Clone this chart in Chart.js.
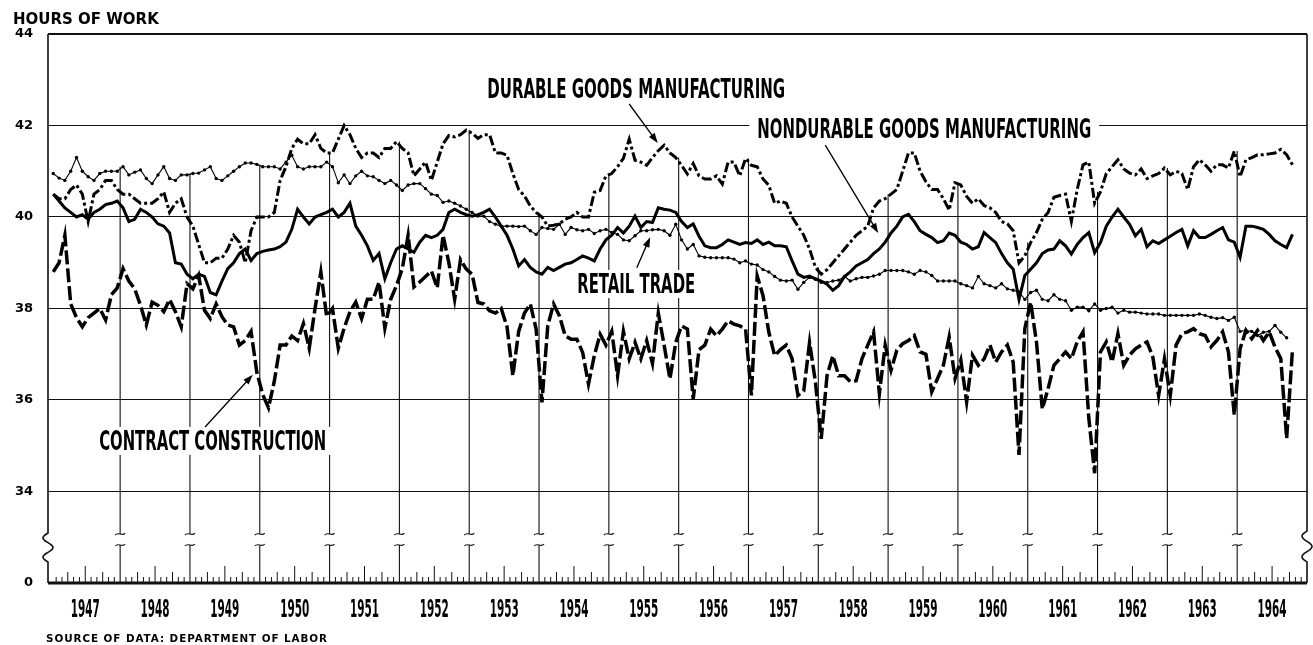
<!DOCTYPE html>
<html>
<head>
<meta charset="utf-8">
<script src="https://cdn.jsdelivr.net/npm/chart.js@4.4.1/dist/chart.umd.min.js"></script>
<style>
  html, body { margin: 0; padding: 0; background: #fff; }
  canvas { display: block; }
</style>
</head>
<body>
<canvas id="hoursChart" width="1313" height="645"></canvas>
<script>
// ==================== DATA (monthly, Jan 1947 - Oct 1964) ====================

const years = ['1947', '1948', '1949', '1950', '1951', '1952', '1953', '1954', '1955',
               '1956', '1957', '1958', '1959', '1960', '1961', '1962', '1963', '1964'];

// y ticks; 32 is the broken-axis position labelled "0"
const yTicks = [32, 34, 36, 38, 40, 42, 44];

const durableGoods = [
    40.5, 40.4, 40.4, 40.6, 40.7, 40.5, 39.9, 40.5, 40.6, 40.8, 40.8, 40.6,
    40.5, 40.5, 40.4, 40.3, 40.3, 40.3, 40.4, 40.55, 40.1, 40.3, 40.4, 40.0,
    39.8, 39.4, 39.0, 39.0, 39.1, 39.1, 39.3, 39.6, 39.45, 39.0, 39.7, 40.0,
    40.0, 40.0, 40.1, 40.8, 41.1, 41.5, 41.7, 41.6, 41.6, 41.8, 41.5, 41.4,
    41.4, 41.7, 42.0, 41.8, 41.5, 41.3, 41.4, 41.4, 41.3, 41.5, 41.5, 41.65,
    41.5, 41.4, 40.9, 41.05, 41.2, 40.8, 41.2, 41.6, 41.78, 41.75, 41.8, 41.9,
    41.83, 41.72, 41.8, 41.8, 41.4, 41.4, 41.35, 40.95, 40.6, 40.46, 40.24, 40.1,
    40.0, 39.8, 39.82, 39.85, 39.95, 40.0, 40.1, 40.0, 40.0, 40.54, 40.58, 40.9,
    40.95, 41.1, 41.28, 41.7, 41.24, 41.2, 41.13, 41.3, 41.45, 41.57, 41.4, 41.3,
    41.13, 40.94, 41.17, 40.9, 40.83, 40.83, 40.9, 40.72, 41.2, 41.2, 40.9, 41.28,
    41.13, 41.1, 40.83, 40.69, 40.3, 40.35, 40.3, 40.0, 39.8, 39.6, 39.3, 38.9,
    38.75, 38.85, 39.0, 39.15, 39.3, 39.45, 39.6, 39.7, 39.8, 40.2, 40.35, 40.4,
    40.5, 40.6, 41.0, 41.4, 41.4, 41.0, 40.77, 40.6, 40.6, 40.4, 40.15, 40.75,
    40.7, 40.45, 40.3, 40.4, 40.25, 40.2, 40.1, 39.9, 39.85, 39.7, 39.0, 39.15,
    39.44, 39.66, 39.95, 40.1, 40.43, 40.47, 40.5, 39.9, 40.6, 41.14, 41.2, 40.3,
    40.55, 40.95, 41.1, 41.25, 41.05, 40.96, 40.92, 41.05, 40.84, 40.9, 40.95, 41.07,
    40.92, 41.0, 40.95, 40.6, 41.1, 41.25, 41.14, 41.0, 41.14, 41.14, 41.07, 41.44,
    40.88, 41.25, 41.3, 41.36, 41.36, 41.38, 41.4, 41.48, 41.36, 41.14
];

const nondurableGoods = [
    40.5, 40.35, 40.2, 40.1, 40.0, 40.05, 39.95, 40.1, 40.17, 40.27, 40.3, 40.35,
    40.2, 39.9, 39.95, 40.17, 40.1, 40.0, 39.85, 39.8, 39.65, 39.0, 38.97, 38.75,
    38.65, 38.75, 38.7, 38.35, 38.3, 38.6, 38.87, 39.0, 39.2, 39.3, 39.05, 39.2,
    39.25, 39.28, 39.3, 39.35, 39.45, 39.73, 40.17, 40.0, 39.85, 40.0, 40.05, 40.1,
    40.17, 40.0, 40.1, 40.3, 39.8, 39.6, 39.37, 39.05, 39.2, 38.65, 39.0, 39.3,
    39.37, 39.3, 39.23, 39.45, 39.6, 39.55, 39.6, 39.73, 40.1, 40.17, 40.1, 40.05,
    40.02, 40.05, 40.1, 40.17, 40.0, 39.8, 39.6, 39.3, 38.93, 39.07, 38.9, 38.8,
    38.75, 38.9, 38.83, 38.9, 38.97, 39.0, 39.07, 39.15, 39.1, 39.04, 39.3, 39.5,
    39.6, 39.77, 39.65, 39.8, 40.02, 39.77, 39.9, 39.88, 40.2, 40.17, 40.15, 40.1,
    39.9, 39.77, 39.85, 39.58, 39.37, 39.33, 39.33, 39.4, 39.5, 39.45, 39.4, 39.44,
    39.42, 39.5, 39.4, 39.45, 39.37, 39.37, 39.35, 39.04, 38.75, 38.68, 38.71, 38.65,
    38.6, 38.53, 38.4, 38.5, 38.7, 38.8, 38.93, 39.0, 39.07, 39.2, 39.3, 39.45,
    39.65, 39.8, 40.0, 40.06, 39.9, 39.7, 39.62, 39.55, 39.44, 39.48, 39.65, 39.6,
    39.45, 39.4, 39.3, 39.35, 39.66, 39.55, 39.44, 39.2, 39.0, 38.86, 38.2, 38.72,
    38.86, 39.0, 39.2, 39.28, 39.3, 39.48, 39.37, 39.19, 39.4, 39.55, 39.66, 39.22,
    39.44, 39.8, 40.0, 40.17, 40.0, 39.84, 39.59, 39.73, 39.35, 39.48, 39.42, 39.5,
    39.58, 39.66, 39.73, 39.37, 39.7, 39.55, 39.55, 39.62, 39.7, 39.77, 39.5, 39.45,
    39.12, 39.8, 39.8, 39.77, 39.73, 39.62, 39.48, 39.4, 39.33, 39.62
];

const retailTrade = [
    40.95, 40.85, 40.8, 41.0, 41.3, 41.0, 40.88, 40.8, 40.95, 41.0, 41.0, 41.0,
    41.1, 40.92, 40.98, 41.03, 40.84, 40.73, 40.92, 41.1, 40.84, 40.8, 40.92, 40.92,
    40.95, 40.96, 41.03, 41.1, 40.84, 40.8, 40.9, 41.0, 41.1, 41.18, 41.18, 41.15,
    41.1, 41.1, 41.1, 41.05, 41.2, 41.35, 41.1, 41.05, 41.1, 41.1, 41.1, 41.2,
    41.1, 40.75, 40.92, 40.73, 40.9, 41.0, 40.9, 40.88, 40.8, 40.73, 40.8, 40.7,
    40.58, 40.7, 40.73, 40.73, 40.62, 40.5, 40.47, 40.32, 40.35, 40.3, 40.24, 40.17,
    40.1, 40.02, 40.02, 39.9, 39.84, 39.8, 39.8, 39.8, 39.79, 39.8, 39.7, 39.62,
    39.77, 39.75, 39.73, 39.84, 39.62, 39.77, 39.72, 39.7, 39.73, 39.64, 39.7, 39.73,
    39.66, 39.62, 39.5, 39.48, 39.59, 39.7, 39.7, 39.72, 39.73, 39.7, 39.6, 39.84,
    39.5, 39.3, 39.4, 39.15, 39.12, 39.11, 39.11, 39.11, 39.11, 39.08, 39.0, 39.04,
    38.97, 38.95, 38.85, 38.8, 38.7, 38.62, 38.6, 38.62, 38.42, 38.57, 38.68, 38.64,
    38.57, 38.57, 38.6, 38.62, 38.7, 38.6, 38.65, 38.68, 38.68, 38.71, 38.75, 38.83,
    38.83, 38.83, 38.83, 38.8, 38.75, 38.83, 38.8, 38.72, 38.6, 38.6, 38.6, 38.6,
    38.54, 38.5, 38.45, 38.7, 38.54, 38.5, 38.45, 38.54, 38.43, 38.4, 38.36, 38.2,
    38.35, 38.4, 38.2, 38.17, 38.3, 38.2, 38.17, 37.96, 38.03, 38.03, 37.95, 38.1,
    37.96, 38.0, 38.03, 37.9, 37.96, 37.92, 37.92, 37.9, 37.88, 37.88, 37.88, 37.85,
    37.85, 37.85, 37.85, 37.85, 37.85, 37.88, 37.85, 37.81, 37.78, 37.8, 37.74, 37.81,
    37.5, 37.52, 37.5, 37.41, 37.48, 37.5, 37.63, 37.48, 37.36
];

const contractConstruction = [
    38.8, 39.0, 39.6, 38.1, 37.8, 37.6, 37.8, 37.9, 38.0, 37.75, 38.3, 38.45,
    38.87, 38.6, 38.43, 38.07, 37.64, 38.14, 38.07, 37.93, 38.2, 37.93, 37.6, 38.54,
    38.43, 38.72, 37.96, 37.78, 38.1, 37.82, 37.64, 37.6, 37.2, 37.3, 37.5, 36.6,
    36.12, 35.83, 36.41, 37.2, 37.2, 37.4, 37.3, 37.67, 37.13, 38.0, 38.8, 37.82,
    38.0, 37.13, 37.57, 37.93, 38.14, 37.78, 38.2, 38.2, 38.58, 37.57, 38.2, 38.5,
    38.87, 39.6, 38.47, 38.58, 38.7, 38.82, 38.45, 39.6, 39.0, 38.2, 39.07, 38.86,
    38.75, 38.13, 38.1, 37.95, 37.9, 38.0, 37.6, 36.53, 37.5, 37.9, 38.1, 37.55,
    35.95, 37.62, 38.1, 37.84, 37.4, 37.33, 37.33, 37.04, 36.35, 36.97, 37.44, 37.2,
    37.5, 36.53, 37.5, 36.9, 37.26, 36.9, 37.3, 36.8, 37.9, 37.2, 36.46, 37.26,
    37.62, 37.55, 36.02, 37.1, 37.2, 37.55, 37.4, 37.55, 37.73, 37.66, 37.62, 37.55,
    36.1, 38.71, 38.28, 37.48, 36.97, 37.1, 37.2, 36.9, 36.1, 36.2, 37.26, 36.4,
    35.15, 36.53, 36.97, 36.53, 36.53, 36.4, 36.42, 36.9, 37.2, 37.49, 36.14, 37.2,
    36.65, 37.09, 37.23, 37.3, 37.41, 37.05, 37.0, 36.18, 36.47, 36.76, 37.38, 36.47,
    36.87, 35.96, 36.98, 36.76, 36.9, 37.2, 36.83, 37.05, 37.2, 36.83, 34.8, 37.56,
    38.14, 37.27, 35.8, 36.25, 36.76, 36.9, 37.05, 36.9, 37.27, 37.49, 35.6, 34.4,
    37.05, 37.27, 36.83, 37.45, 36.76, 36.98, 37.12, 37.2, 37.27, 36.94, 36.1, 36.9,
    36.1, 37.2, 37.45, 37.49, 37.56, 37.45, 37.41, 37.16, 37.3, 37.49, 37.05, 35.67,
    37.12, 37.52, 37.34, 37.52, 37.3, 37.49, 37.16, 36.9, 35.16, 37.1
];

const allSeries = [durableGoods, nondurableGoods, retailTrade, contractConstruction];

// ==================== ANNOTATIONS (month index / hours) ====================

const seriesLabels = [
    { text: 'DURABLE GOODS MANUFACTURING', month: 100.7, hours: 42.60, width: 298 },
    { text: 'NONDURABLE GOODS MANUFACTURING', month: 150.2, hours: 41.73, width: 334 },
    { text: 'RETAIL TRADE', month: 100.7, hours: 38.34, width: 118 },
    { text: 'CONTRACT CONSTRUCTION', month: 27.9, hours: 34.91, width: 227 }
];

const pointers = [
    { from: [99.5, 42.47], to: [104.4, 41.62] },
    { from: [133.2, 41.57], to: [142.3, 39.65] },
    { from: [100.8, 38.89], to: [103.1, 39.56] },
    { from: [26.6, 35.41], to: [34.8, 36.55] }
];

const CONDENSED = '"Liberation Sans Narrow", "DejaVu Sans Condensed", "Roboto Condensed", sans-serif';
const WIDE = '"DejaVu Sans", Verdana, sans-serif';

function monthPoints(arr) {
    return arr.map((v, i) => ({ x: i + 0.5, y: v }));
}

function breakMark(ctx, px, py) {
    ctx.beginPath();
    ctx.moveTo(px - 5, py + 1);
    ctx.bezierCurveTo(px - 2, py - 3, px + 2, py + 3, px + 5, py - 1);
    ctx.stroke();
}

function brokenAxis(ctx, px, top, bottom, sTop, sBottom) {
    ctx.beginPath();
    ctx.moveTo(px, top);
    ctx.lineTo(px, sTop);
    for (let i = 1; i <= 30; i++) {
        const t = i / 30;
        ctx.lineTo(px - 5 * Math.sin(Math.PI * 3 * t), sTop + (sBottom - sTop) * t);
    }
    ctx.lineTo(px, bottom);
    ctx.stroke();
}

function arrow(ctx, x1, y1, x2, y2) {
    const ang = Math.atan2(y2 - y1, x2 - x1);
    ctx.beginPath();
    ctx.moveTo(x1, y1);
    ctx.lineTo(x2 - 6 * Math.cos(ang), y2 - 6 * Math.sin(ang));
    ctx.stroke();
    ctx.beginPath();
    ctx.moveTo(x2, y2);
    ctx.lineTo(x2 - 10 * Math.cos(ang) + 3.5 * Math.sin(ang), y2 - 10 * Math.sin(ang) - 3.5 * Math.cos(ang));
    ctx.lineTo(x2 - 10 * Math.cos(ang) - 3.5 * Math.sin(ang), y2 - 10 * Math.sin(ang) + 3.5 * Math.cos(ang));
    ctx.closePath();
    ctx.fill();
}

// ==================== DECORATION PLUGIN ====================

const decorPlugin = {
    id: 'decor',
    beforeDatasetsDraw(chart) {
        const { ctx, chartArea: a, scales: { x, y } } = chart;
        const bottom = y.getPixelForValue(32);
        const breakLo = y.getPixelForValue(32.83);
        const breakHi = y.getPixelForValue(33.07);
        const sBottom = y.getPixelForValue(32.46);

        ctx.save();
        ctx.strokeStyle = '#111';
        ctx.fillStyle = '#111';
        ctx.lineWidth = 1.1;

        // year lines, broken near the bottom, rising to the highest curve
        for (let k = 1; k < years.length; k++) {
            const m = k * 12;
            const vals = [];
            allSeries.forEach(s => {
                if (s[m - 1] !== undefined) vals.push(s[m - 1]);
                if (s[m] !== undefined) vals.push(s[m]);
            });
            const top = y.getPixelForValue(Math.max(...vals));
            const px = x.getPixelForValue(m);
            ctx.beginPath();
            ctx.moveTo(px, bottom);
            ctx.lineTo(px, breakLo);
            ctx.moveTo(px, breakHi);
            ctx.lineTo(px, top);
            ctx.stroke();
            breakMark(ctx, px, breakLo);
            breakMark(ctx, px, breakHi);
        }

        // left and right axes with the break
        ctx.lineWidth = 1.6;
        brokenAxis(ctx, a.left, a.top, bottom, breakHi - 1, sBottom);
        brokenAxis(ctx, a.right, a.top, bottom, breakHi - 3, sBottom);

        // month ticks
        ctx.lineWidth = 1;
        for (let m = 1; m < 216; m++) {
            if (m % 12 === 0) continue;
            const h = m % 12 === 6 ? 17 : (m % 3 === 0 ? 11 : 6);
            const px = x.getPixelForValue(m);
            ctx.beginPath();
            ctx.moveTo(px, bottom);
            ctx.lineTo(px, bottom - h);
            ctx.stroke();
        }

        // baseline
        ctx.lineWidth = 3;
        ctx.beginPath();
        ctx.moveTo(a.left, bottom);
        ctx.lineTo(a.right, bottom);
        ctx.stroke();

        // white boxes behind series labels
        ctx.fillStyle = '#fff';
        seriesLabels.forEach(l => {
            const cx = x.getPixelForValue(l.month);
            const by = y.getPixelForValue(l.hours);
            ctx.fillRect(cx - l.width / 2 - 8, by - 23, l.width + 16, 28);
        });
        ctx.restore();
    },
    afterDatasetsDraw(chart) {
        const { ctx, scales: { x, y } } = chart;
        const bottom = y.getPixelForValue(32);
        ctx.save();
        ctx.fillStyle = '#000';
        ctx.strokeStyle = '#000';

        // series labels
        ctx.font = 'bold 27px ' + CONDENSED;
        ctx.textAlign = 'center';
        ctx.textBaseline = 'alphabetic';
        seriesLabels.forEach(l => {
            ctx.fillText(l.text, x.getPixelForValue(l.month), y.getPixelForValue(l.hours), l.width);
        });

        // pointers
        ctx.lineWidth = 1.3;
        pointers.forEach(p => {
            arrow(ctx, x.getPixelForValue(p.from[0]), y.getPixelForValue(p.from[1]),
                  x.getPixelForValue(p.to[0]), y.getPixelForValue(p.to[1]));
        });

        // year labels
        ctx.font = 'bold 24px ' + CONDENSED;
        years.forEach((yr, k) => {
            ctx.fillText(yr, x.getPixelForValue(k * 12 + 6), bottom + 34, 29);
        });

        // header and source
        ctx.textAlign = 'left';
        ctx.font = 'bold 15px ' + WIDE;
        ctx.fillText('HOURS OF WORK', 13, 24, 146);
        ctx.font = 'bold 11px ' + WIDE;
        ctx.letterSpacing = '1px';
        ctx.fillText('SOURCE OF DATA: DEPARTMENT OF LABOR', 46, 642, 282);
        ctx.restore();
    }
};

// ==================== CHART ====================

const ctx = document.getElementById('hoursChart').getContext('2d');

new Chart(ctx, {
    type: 'line',
    data: {
        datasets: [
            {
                label: 'Durable goods manufacturing',
                data: monthPoints(durableGoods),
                borderColor: '#000',
                borderWidth: 3,
                borderDash: [10, 3, 3, 3],
                pointRadius: 0,
                tension: 0
            },
            {
                label: 'Nondurable goods manufacturing',
                data: monthPoints(nondurableGoods),
                borderColor: '#000',
                borderWidth: 3,
                pointRadius: 0,
                tension: 0
            },
            {
                label: 'Retail trade',
                data: monthPoints(retailTrade),
                borderColor: '#000',
                borderWidth: 1.1,
                pointRadius: 1.7,
                pointBorderWidth: 0,
                pointBackgroundColor: '#000',
                tension: 0
            },
            {
                label: 'Contract construction',
                data: monthPoints(contractConstruction),
                borderColor: '#000',
                borderWidth: 3.5,
                borderDash: [14, 4],
                pointRadius: 0,
                tension: 0
            }
        ]
    },
    options: {
        responsive: false,
        animation: false,
        devicePixelRatio: 1,
        layout: { padding: { top: 34, right: 6, bottom: 62, left: 0 } },
        plugins: {
            legend: { display: false },
            tooltip: { enabled: false }
        },
        scales: {
            x: {
                type: 'linear',
                min: -0.4,
                max: 216,
                display: false
            },
            y: {
                min: 32,
                max: 44,
                afterBuildTicks: scale => {
                    scale.ticks = yTicks.map(v => ({ value: v }));
                },
                afterFit: scale => {
                    scale.width = 48;
                },
                border: { display: false },
                grid: {
                    drawTicks: false,
                    color: c => (c.tick && c.tick.value === 32) ? 'rgba(0,0,0,0)' : '#111',
                    lineWidth: c => (c.tick && c.tick.value === 44) ? 2 : 1.1
                },
                ticks: {
                    padding: 15,
                    color: '#000',
                    font: { family: WIDE, size: 13, weight: 'bold' },
                    callback: v => (v === 32 ? '0' : String(v))
                }
            }
        }
    },
    plugins: [decorPlugin]
});
</script>
</body>
</html>
